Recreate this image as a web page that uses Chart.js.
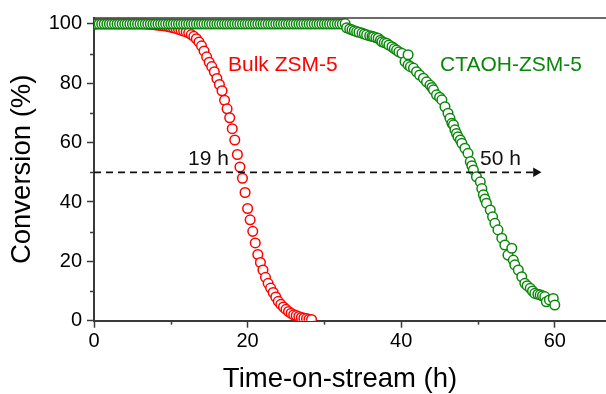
<!DOCTYPE html>
<html>
<head>
<meta charset="utf-8">
<script src="https://cdn.jsdelivr.net/npm/chart.js@4.4.0/dist/chart.umd.min.js"></script>
<style>
  body { margin: 0; background: #fff; }
  canvas { display: block; }
</style>
</head>
<body>
<canvas id="convChart" width="606" height="394"></canvas>
<script>
// Bulk ZSM-5 (red)
const redTime = [0,0.33,0.67,1,1.33,1.67,2,2.33,2.67,3,3.33,3.67,4,4.33,4.67,5,5.33,5.67,6,6.33,6.67,
  7,7.33,7.67,8,8.33,8.67,9,9.33,9.67,10,10.33,10.67,11,11.33,11.67,12,12.33,12.67,13,13.33,13.67,
  14,14.33,14.67,15,15.33,15.67,16,16.33,16.67,17,17.33,17.67,18,18.33,18.67,19,19.33,19.67,20,
  20.33,20.67,21,21.33,21.67,22,22.33,22.67,23,23.33,23.67,24,24.33,24.67,25,25.33,25.67,26,26.33,
  26.67,27,27.33,27.67,28,28.33];
const redConv = [100,100,100,100,100,100,100,100,100,100,100,100,100,100,100,100,100,100,100,100,100,
  99.9,99.9,99.8,99.7,99.6,99.5,99.4,99.3,99.1,98.9,98.7,98.5,98.2,97.9,97.6,97.3,97.0,96.4,95.8,95.0,93.9,
  92.6,90.9,88.9,87.1,85.6,83.9,81.6,79.6,77.5,74.3,71.4,68.4,64.7,60.9,56.0,51.8,48.0,43.2,37.8,
  34.0,30.1,26.2,22.3,19.6,17.1,14.6,12.6,11.0,9.5,8.0,6.5,5.5,4.6,3.8,3.1,2.5,2.0,1.7,
  1.4,1.1,0.9,0.7,0.5,0.4];

// CTAOH-ZSM-5 (green)
const greenTime = [0,0.33,0.67,1,1.33,1.67,2,2.33,2.67,3,3.33,3.67,4,4.33,4.67,5,5.33,5.67,6,6.33,6.67,
  7,7.33,7.67,8,8.33,8.67,9,9.33,9.67,10,10.33,10.67,11,11.33,11.67,12,12.33,12.67,13,13.33,13.67,
  14,14.33,14.67,15,15.33,15.67,16,16.33,16.67,17,17.33,17.67,18,18.33,18.67,19,19.33,19.67,20,
  20.33,20.67,21,21.33,21.67,22,22.33,22.67,23,23.33,23.67,24,24.33,24.67,25,25.33,25.67,26,26.33,
  26.67,27,27.33,27.67,28,28.33,28.67,29,29.33,29.67,30,30.33,30.67,31,31.33,31.67,32,32.33,
  32.7,32.9,33.3,33.6,33.9,34.2,34.5,34.9,35.2,35.5,35.9,36.2,36.4,36.7,37.0,37.3,37.5,37.8,38.1,38.4,
  38.8,39.1,39.4,39.7,40.1,40.5,40.9,40.9,41.2,41.6,42.0,42.4,42.9,43.3,43.75,44.0,44.2,44.6,45.0,45.3,
  45.7,46.1,46.35,46.6,46.8,47.0,47.2,47.4,47.7,47.9,48.3,48.7,49.0,49.2,49.4,49.8,50.3,50.5,50.7,50.9,
  51.1,51.6,51.9,52.2,52.6,53.1,53.5,53.9,54.4,54.6,54.8,55.25,55.7,56.1,56.4,56.8,57.1,57.4,57.8,58.1,
  58.4,58.7,58.9,59.3,59.8,60.0];
const greenConv = [100,100,100,100,100,100,100,100,100,100,100,100,100,100,100,100,100,100,100,100,100,
  100,100,100,100,100,100,100,100,100,100,100,100,100,100,100,100,100,100,100,100,100,
  100,100,100,100,100,100,100,100,100,100,100,100,100,100,100,100,100,100,100,
  100,100,100,100,100,100,100,100,100,100,100,100,100,100,100,100,100,100,100,
  100,100,100,100,100,100,100,100,100,100,100,100,100,100,100,100,100,100,
  100.1,98.7,98.3,98.0,97.7,97.4,97.2,96.9,96.6,96.3,96.0,95.8,95.7,95.4,95.2,94.5,94.0,93.7,93.5,92.9,
  92.3,91.7,91.2,90.6,90.1,87.3,89.6,86.2,85.6,85.1,83.9,82.8,81.7,80.5,79.4,78.6,77.8,76.1,75.3,74.4,
  72.1,69.9,68.2,66.5,66.0,64.3,63.1,62.0,60.9,59.8,58.1,56.4,53.6,52.2,50.8,48.5,46.8,44.5,42.4,41.0,
  39.6,37.3,35.0,32.8,30.6,27.8,25.5,22.1,24.4,20.4,18.8,17.1,14.8,12.6,11.8,10.9,10.0,9.2,8.9,8.7,
  8.4,8.1,6.4,7.0,7.5,5.3];

// dashed 50 % marker line
const markerTime = [0, 57.55];
const markerConv = [50, 50];

const xTicks = [0, 10, 20, 30, 40, 50, 60];
const yTicks = [0, 10, 20, 30, 40, 50, 60, 70, 80, 90, 100];

const notes = [
  { text: 'Bulk ZSM-5', x: 17.45, y: 86.2, color: '#ff0000' },
  { text: 'CTAOH-ZSM-5', x: 45.05, y: 86.2, color: '#0a870a' },
  { text: '19 h', x: 12.24, y: 54.3, color: '#111' },
  { text: '50 h', x: 50.26, y: 54.3, color: '#111' }
];

const axisColor = '#3a3a3a';
const red = '#ff0000';
const green = '#0a870a';

Chart.defaults.font.family = "'Liberation Sans', Arial, sans-serif";

const toPts = (xs, ys) => xs.map((x, i) => ({ x: x, y: ys[i] }));

const extras = {
  id: 'extras',
  afterDraw(chart) {
    const ctx = chart.ctx;
    const area = chart.chartArea;
    const xs = chart.scales.x, ys = chart.scales.y;
    ctx.save();
    ctx.strokeStyle = axisColor;
    // top frame line
    ctx.lineWidth = 1.5;
    ctx.beginPath();
    ctx.moveTo(area.left, area.top);
    ctx.lineTo(area.right, area.top);
    ctx.stroke();
    // minor ticks
    xTicks.filter(v => v % 20).forEach(v => {
      const px = Math.round(xs.getPixelForValue(v)) + 0.5;
      ctx.beginPath();
      ctx.moveTo(px, area.bottom);
      ctx.lineTo(px, area.bottom + 4);
      ctx.stroke();
    });
    yTicks.filter(v => v % 20).forEach(v => {
      const py = Math.round(ys.getPixelForValue(v)) + 0.5;
      ctx.beginPath();
      ctx.moveTo(area.left, py);
      ctx.lineTo(area.left - 4, py);
      ctx.stroke();
    });
    // text labels
    ctx.font = "21px 'Liberation Sans', Arial, sans-serif";
    ctx.textAlign = 'left';
    ctx.textBaseline = 'middle';
    notes.forEach(n => {
      ctx.fillStyle = n.color;
      ctx.fillText(n.text, xs.getPixelForValue(n.x), ys.getPixelForValue(n.y));
    });
    // x axis title (sits a little left of the plot centre in the original)
    ctx.font = "27.5px 'Liberation Sans', Arial, sans-serif";
    ctx.textAlign = 'center';
    ctx.fillStyle = '#000';
    ctx.fillText('Time-on-stream (h)', 340, 379);
    ctx.restore();
  }
};

new Chart(document.getElementById('convChart'), {
  type: 'scatter',
  data: {
    datasets: [{
      label: 'marker',
      data: toPts(markerTime, markerConv),
      showLine: true,
      borderColor: '#111',
      borderWidth: 1.8,
      borderDash: [7, 5],
      pointRadius: [0, 5.5],
      pointStyle: 'triangle',
      rotation: 90,
      pointBackgroundColor: '#111',
      pointBorderColor: '#111',
      pointBorderWidth: 0
    }, {
      label: 'CTAOH-ZSM-5',
      data: toPts(greenTime, greenConv),
      pointRadius: 4.8,
      pointBorderWidth: 1.5,
      pointBorderColor: green,
      pointBackgroundColor: '#fff'
    }, {
      label: 'Bulk ZSM-5',
      data: toPts(redTime, redConv),
      pointRadius: 4.8,
      pointBorderWidth: 1.5,
      pointBorderColor: red,
      pointBackgroundColor: '#fff'
    }]
  },
  options: {
    responsive: false,
    animation: false,
    layout: { autoPadding: false, padding: { top: 18, right: 0, left: 0, bottom: 0 } },
    plugins: { legend: { display: false }, tooltip: { enabled: false } },
    scales: {
      x: {
        type: 'linear',
        min: 0,
        max: 66.67,
        afterBuildTicks: s => { s.ticks = xTicks.map(v => ({ value: v })); },
        afterFit: s => { s.height = 73.3; s.paddingLeft = 0; s.paddingRight = 0; },
        grid: {
          drawOnChartArea: false,
          drawTicks: true,
          tickLength: 7,
          tickWidth: 1.5,
          tickColor: c => (c.tick && c.tick.value % 20) ? 'rgba(0,0,0,0)' : axisColor
        },
        border: { color: axisColor, width: 2 },
        ticks: {
          font: { size: 20 },
          color: '#000',
          padding: 2,
          maxRotation: 0,
          autoSkip: false,
          callback: v => (v % 20 ? '' : v)
        },
        title: { display: false }
      },
      y: {
        type: 'linear',
        min: 0,
        max: 102,
        afterBuildTicks: s => { s.ticks = yTicks.map(v => ({ value: v })); },
        afterFit: s => { s.width = 94; s.paddingTop = 0; s.paddingBottom = 0; },
        grid: {
          drawOnChartArea: false,
          drawTicks: true,
          tickLength: 7,
          tickWidth: 1.5,
          tickColor: c => (c.tick && c.tick.value % 20) ? 'rgba(0,0,0,0)' : axisColor
        },
        border: { color: axisColor, width: 2 },
        ticks: {
          font: { size: 20 },
          color: '#000',
          padding: 5,
          autoSkip: false,
          callback: v => (v % 20 ? '' : v)
        },
        title: {
          display: true,
          text: 'Conversion (%)',
          color: '#000',
          font: { size: 27.5, lineHeight: 1.2 },
          padding: { top: 6, bottom: 0 }
        }
      }
    }
  },
  plugins: [extras]
});
</script>
</body>
</html>
